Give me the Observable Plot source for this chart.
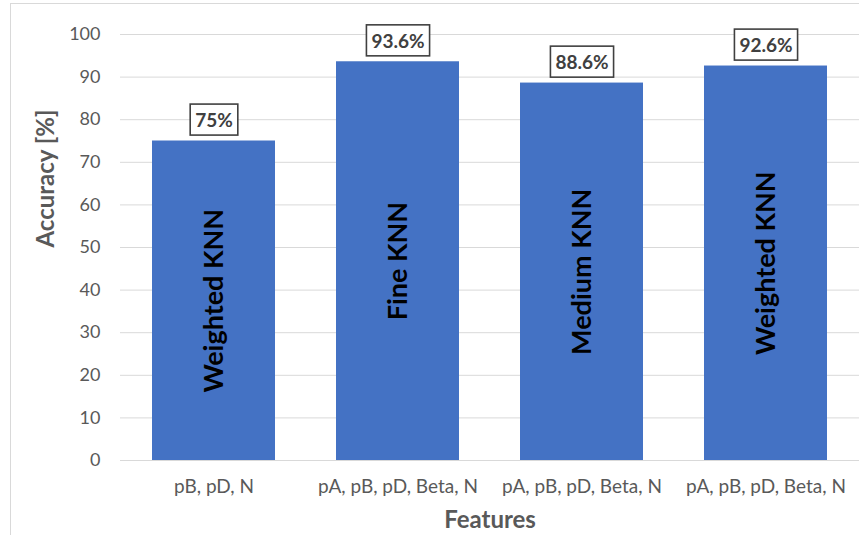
<!DOCTYPE html>
<html>
<head>
<meta charset="utf-8">
<script src="https://cdn.jsdelivr.net/npm/d3@7"></script>
<script src="https://cdn.jsdelivr.net/npm/@observablehq/plot@0.6"></script>
<style>
  html, body { margin: 0; padding: 0; background: #fff; }
  #wrap { position: relative; width: 859px; height: 535px; overflow: hidden; }
  #frame { position: absolute; left: 10px; top: 3px; width: 900px; height: 600px;
           border-left: 1px solid #d9d9d9; border-top: 1px solid #d9d9d9; }
  #chart { position: absolute; left: 0; top: 0; }
</style>
</head>
<body>
<div id="wrap"><div id="frame"></div><div id="chart"></div></div>
<script>
// Feature sets used for each classifier
const features = ["pB, pD, N", "pA, pB, pD, Beta, N", "pA, pB, pD, Beta, N", "pA, pB, pD, Beta, N"];
// Best KNN variant per feature set
const classifiers = ["Weighted KNN", "Fine KNN", "Medium KNN", "Weighted KNN"];
// Classification accuracy (%)
const accuracy = [75, 93.6, 88.6, 92.6];
// Y axis ticks
const yTicks = [0, 10, 20, 30, 40, 50, 60, 70, 80, 90, 100];

const rows = accuracy.map((acc, i) => ({i, acc, feature: features[i], model: classifiers[i]}));

const grey = "#595959";
const font = "Lato, 'Open Sans', sans-serif";

const chart = Plot.plot({
  width: 859,
  height: 535,
  marginLeft: 120,
  marginRight: 0,
  marginTop: 34,
  marginBottom: 75,
  style: {fontFamily: font, background: "transparent"},
  x: {domain: d3.range(features.length), paddingInner: 0.334, paddingOuter: 0.167, label: null},
  y: {domain: [0, 100], label: null},
  marks: [
    Plot.gridY(yTicks, {stroke: "#d9d9d9", strokeOpacity: 1, strokeWidth: 1}),
    Plot.barY(rows, {x: "i", y: "acc", fill: "#4472C4"}),
    Plot.axisY(yTicks, {tickSize: 0, tickPadding: 20, fontSize: 18, color: grey, label: null}),
    Plot.axisX({tickSize: 0, tickPadding: 19, fontSize: 19, color: grey, label: null,
                tickFormat: i => features[i]}),
    // classifier name written vertically in the middle of each bar
    Plot.text(rows, {x: "i", y: d => d.acc / 2, text: "model", rotate: -90,
                     fontSize: 27, fontWeight: "bold", fill: "#000"}),
    // accuracy value above each bar
    Plot.text(rows, {x: "i", y: "acc", text: d => `${d.acc}%`, dy: -20,
                     lineAnchor: "middle", fontSize: 19, fontWeight: "bold", fill: "#404040",
                     className: "val-label"}),
    // axis titles
    Plot.text(["Accuracy [%]"], {frameAnchor: "left", rotate: -90, dx: -74,
                                 fontSize: 24, fontWeight: "bold", fill: grey}),
    Plot.text(["Features"], {frameAnchor: "bottom", dy: 60, lineAnchor: "middle",
                             fontSize: 24, fontWeight: "bold", fill: grey})
  ]
});

document.getElementById("chart").append(chart);

// outline box behind each value label
d3.select(chart).selectAll("g.val-label text").each(function () {
  const b = this.getBBox();
  const padX = 5, padY = 5;
  const r = document.createElementNS("http://www.w3.org/2000/svg", "rect");
  r.setAttribute("x", b.x - padX);
  r.setAttribute("y", b.y - padY + 1);
  r.setAttribute("width", b.width + 2 * padX);
  r.setAttribute("height", b.height + 2 * padY - 2);
  r.setAttribute("fill", "#fff");
  r.setAttribute("stroke", "#404040");
  r.setAttribute("stroke-width", 1.6);
  const t = this.getAttribute("transform");
  if (t) r.setAttribute("transform", t);
  this.parentNode.insertBefore(r, this);
});
</script>
</body>
</html>
